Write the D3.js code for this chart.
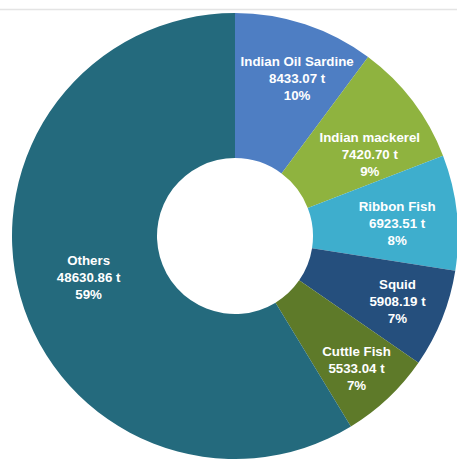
<!DOCTYPE html>
<html><head><meta charset="utf-8">
<script src="https://cdn.jsdelivr.net/npm/d3@7"></script>
<style>html,body{margin:0;padding:0;background:#fff;}svg{display:block;}</style>
</head><body>
<svg id="c" width="457" height="459"></svg>
<script>
const categories = ["Indian Oil Sardine","Indian mackerel","Ribbon Fish","Squid","Cuttle Fish","Others"];
const values = [8433.07, 7420.70, 6923.51, 5908.19, 5533.04, 48630.86];
const valueLabels = ["8433.07 t","7420.70 t","6923.51 t","5908.19 t","5533.04 t","48630.86 t"];
const percentLabels = ["10%","9%","8%","7%","7%","59%"];
const colors = ["#4e7ec3","#8fb33f","#3eaecd","#254f7d","#5e7a29","#246a7d"];
const labelNudge = [[9,3],[9,14],[1,5],[0,0],[-2,2],[0,0]];

const W=457,H=459,cx=235,cy=236,R=223,r=78;
const svg=d3.select("#c");
svg.append("line").attr("x1",0).attr("x2",W).attr("y1",9.5).attr("y2",9.5)
  .attr("stroke","#e4e4e4").attr("stroke-width",1.5);
const g=svg.append("g").attr("transform",`translate(${cx},${cy})`);
const data=categories.map((c,i)=>({c,v:values[i],i}));
const pie=d3.pie().value(d=>d.v).sort(null);
const arc=d3.arc().innerRadius(r).outerRadius(R);
const arcs=pie(data);
g.selectAll("path").data(arcs).join("path").attr("d",arc)
  .attr("fill",d=>colors[d.data.i]);
const labelR=[169,158,162,175,180,152];
const lab=g.selectAll("g.lab").data(arcs).join("g").attr("class","lab")
  .attr("transform",d=>{
    const a=(d.startAngle+d.endAngle)/2, lr=labelR[d.data.i];
    const n=labelNudge[d.data.i];
    return `translate(${Math.sin(a)*lr+n[0]},${-Math.cos(a)*lr+n[1]})`;
  });
lab.each(function(d){
  const t=d3.select(this).append("text").attr("text-anchor","middle")
    .attr("font-family","Liberation Sans, Arial, sans-serif").attr("font-weight","bold")
    .attr("font-size",13.3).attr("fill","#ffffff");
  const lines=[d.data.c,valueLabels[d.data.i],percentLabels[d.data.i]];
  lines.forEach((s,k)=>t.append("tspan").attr("x",0).attr("y",(k-1)*17+4.5).text(s));
});
</script>
</body></html>
